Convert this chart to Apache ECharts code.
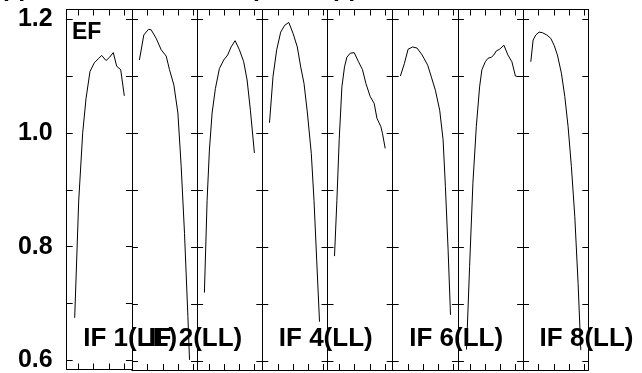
<!DOCTYPE html>
<html>
<head>
	<meta charset="utf-8">
	<title>EF per IF (LL)</title>
</head>
<body style="margin:0;background:#fff;">
<script type="text/javascript" src="https://cdn.jsdelivr.net/npm/echarts@6/dist/echarts.min.js"></script>
<div id="container" style="width:642px;height:373px;"></div>
<script type="text/javascript">
	// EF curve of each IF panel: [channel offset inside the panel, EF]
	var if1 = [[8,0.675],[12,0.88],[16,1.0],[19.3,1.06],[23.3,1.108],[27.6,1.123],[31.5,1.13],[35,1.136],[39.3,1.127],[43,1.133],[46.6,1.141],[50,1.117],[54,1.111],[57.6,1.065]];
	var if2 = [[7.5,1.128],[11.9,1.172],[16.6,1.182],[19.3,1.181],[24.3,1.166],[29.3,1.146],[34.3,1.135],[37.6,1.111],[42,1.084],[46,1.035],[49.3,0.941],[52.6,0.824],[56,0.678],[57.6,0.602]];
	var if3 = [[7.3,0.72],[10,0.882],[12.3,0.97],[15,1.035],[18.3,1.078],[22.3,1.113],[26.6,1.128],[30.6,1.137],[34,1.151],[38,1.162],[42.3,1.146],[46.6,1.125],[50,1.093],[53.3,1.04],[57.3,0.965]];
	var if4 = [[7.2,1.018],[10.7,1.099],[14.4,1.146],[18.4,1.177],[22.4,1.189],[26.5,1.194],[30.7,1.175],[35,1.151],[38.4,1.116],[41.7,1.087],[45,1.037],[49,0.964],[51.7,0.882],[54.4,0.777],[57.2,0.669]];
	var if5 = [[7,0.784],[9.4,0.882],[11.7,0.988],[14.4,1.081],[17,1.116],[19.4,1.133],[22.7,1.14],[26.7,1.141],[31,1.125],[35,1.111],[38.4,1.087],[42.7,1.064],[46.7,1.052],[49.4,1.026],[53.4,1.011],[55,0.999],[57.7,0.973]];
	var if6 = [[7.7,1.1],[11.7,1.122],[15.4,1.147],[20,1.151],[24.4,1.149],[29.4,1.137],[35,1.119],[38.7,1.098],[42.7,1.075],[47,1.04],[50.4,0.988],[52.7,0.906],[55.4,0.795],[57.8,0.681]];
	var if7 = [[8.6,0.62],[11.7,0.766],[15,0.912],[18.4,1.011],[21.7,1.081],[24,1.111],[27.4,1.125],[30,1.131],[33.4,1.133],[36,1.137],[38.4,1.144],[41.7,1.147],[46,1.154],[50,1.137],[54,1.125],[57.5,1.1],[60,1.099]];
	var if8 = [[7.7,1.125],[10,1.163],[12.7,1.172],[16,1.177],[19.3,1.176],[23.7,1.172],[27.7,1.166],[31,1.154],[34.3,1.137],[38.3,1.105],[41.7,1.064],[45,1.011],[48.3,0.941],[51.7,0.853],[55,0.736],[57.7,0.619]];
	var panels = [if1, if2, if3, if4, if5, if6, if7, if8];

	// labels written on the panels (IF 3, 5 and 7 carry none)
	var ifLabels = ['IF 1(LL)', 'IF 2(LL)', '', 'IF 4(LL)', '', 'IF 6(LL)', '', 'IF 8(LL)'];

	// ticks
	var yTicks = [0.6, 0.7, 0.8, 0.9, 1.0, 1.1, 1.2];
	var yTickLabels = [0.6, 0.8, 1.0, 1.2];
	var xTicksOdd = [12, 27, 42.5, 57.5];
	var xTicksEven = [15.5, 31, 46, 61];

	var plotLeft = 66.7, plotTop = 9.5, panelW = 65.2, plotH = 360.5;
	var yMin = 0.5842, yMax = 1.2167;
	var boldFont = '"Liberation Sans", Arial, Helvetica, sans-serif';

	var grids = [], xAxes = [], yAxes = [], series = [], graphics = [];
	for (var i = 0; i < panels.length; i++) {
		var left = plotLeft + i * panelW;
		grids.push({left: left, top: plotTop, width: panelW, height: plotH});
		var ticks = (i % 2 === 0) ? xTicksOdd : xTicksEven;
		['bottom', 'top'].forEach(function(pos) {
			xAxes.push({
				type: 'value', gridIndex: i, position: pos, min: 0, max: panelW,
				axisLine: {show: true, onZero: false, lineStyle: {color: '#000', width: 1}},
				axisTick: {show: true, inside: true, length: 6, customValues: ticks, lineStyle: {color: '#000'}},
				axisLabel: {show: false},
				splitLine: {show: false}
			});
		});
		['left', 'right'].forEach(function(pos) {
			var showLab = (i === 0 && pos === 'left');
			yAxes.push({
				type: 'value', gridIndex: i, position: pos, min: yMin, max: yMax,
				axisLine: {show: true, onZero: false, lineStyle: {color: '#000', width: 1}},
				axisTick: {show: true, inside: true, length: 6, customValues: yTicks, lineStyle: {color: '#000'}},
				axisLabel: {
					show: showLab, customValues: yTickLabels, margin: 14,
					fontSize: 25, fontWeight: 'bold', fontFamily: boldFont, color: '#000',
					formatter: function(v) { return v.toFixed(1); }
				},
				splitLine: {show: false}
			});
		});
		series.push({
			type: 'line', xAxisIndex: i * 2, yAxisIndex: i * 2,
			data: panels[i], symbol: 'none', silent: true,
			lineStyle: {color: '#000', width: 1}
		});
		if (ifLabels[i]) {
			graphics.push({
				type: 'text', x: left + 16.5, y: 339, z: 10,
				style: {text: ifLabels[i], font: 'bold 26px ' + boldFont, fill: '#000', verticalAlign: 'middle'}
			});
		}
	}

	graphics.push({type: 'text', x: 72, y: 32.5, z: 10,
		style: {text: 'EF', font: 'bold 23px ' + boldFont, fill: '#000', verticalAlign: 'middle'}});
	// title above the frame, cut off by the picture edge
	graphics.push({type: 'text', x: 3, y: -11, style: {text: 'pp', font: 'bold 25px ' + boldFont, fill: '#000', verticalAlign: 'middle'}});
	graphics.push({type: 'text', x: 253, y: -11, style: {text: 'p', font: 'bold 25px ' + boldFont, fill: '#000', verticalAlign: 'middle'}});
	graphics.push({type: 'text', x: 333, y: -11, style: {text: 'pp', font: 'bold 25px ' + boldFont, fill: '#000', verticalAlign: 'middle'}});

	var myChart = echarts.init(document.getElementById('container'));
	var option = {
		backgroundColor: '#fff',
		animation: false,
		grid: grids,
		xAxis: xAxes,
		yAxis: yAxes,
		series: series,
		graphic: graphics
	};
	myChart.setOption(option);
	window.addEventListener('resize', myChart.resize);
</script>
</body>
</html>
